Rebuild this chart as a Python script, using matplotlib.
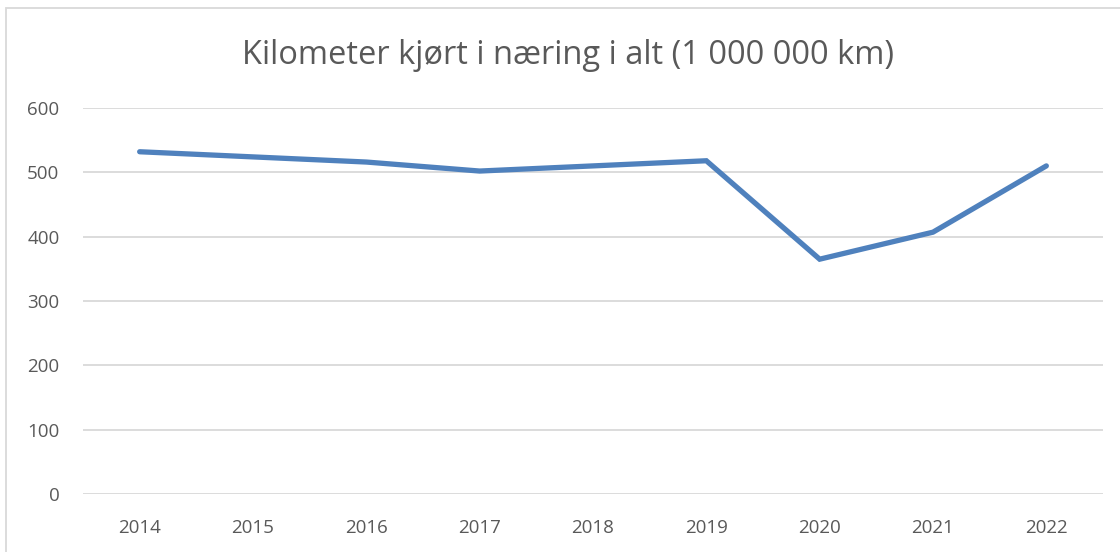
import numpy as np
import matplotlib.pyplot as plt
from matplotlib.patches import Rectangle

years = ["2014", "2015", "2016", "2017", "2018", "2019", "2020", "2021", "2022"]
km_million = [532, 524, 516, 502, 510, 518, 365, 407, 510]
y_ticks = [0, 100, 200, 300, 400, 500, 600]

plt.rcParams['font.family'] = ['Open Sans', 'DejaVu Sans']

fig = plt.figure(figsize=(11.2, 5.52), dpi=100)
ax = fig.add_axes([83 / 1120, 58 / 552, 1020 / 1120, 386 / 552])

x = np.arange(len(years))
ax.plot(x, km_million, color="#4f81bd", linewidth=3.8, solid_capstyle="round",
        solid_joinstyle="miter", zorder=3)

ax.set_xlim(-0.5, len(years) - 0.5)
ax.set_ylim(0, 600)
ax.set_yticks(y_ticks)
ax.set_xticks(x)
ax.set_xticklabels(years)
ax.yaxis.grid(True, color="#d9d9d9", linewidth=1.3)
ax.set_axisbelow(True)
for s in ax.spines.values():
    s.set_visible(False)
ax.tick_params(length=0, labelsize=13.5, labelcolor="#595959")
ax.tick_params(axis="y", pad=17)
ax.tick_params(axis="x", pad=18)

fig.text(568 / 1120, 1 - 55 / 552, "Kilometer kjørt i næring i alt (1 000 000 km)",
         ha="center", va="center", fontsize=23.5, color="#595959")

fig.patches.append(Rectangle((6 / 1120, -0.1), 1.2, 1 - 8 / 552 + 0.1,
                             transform=fig.transFigure, fill=False,
                             edgecolor="#d9d9d9", linewidth=1.3))

fig.savefig("out.png", dpi=100)
